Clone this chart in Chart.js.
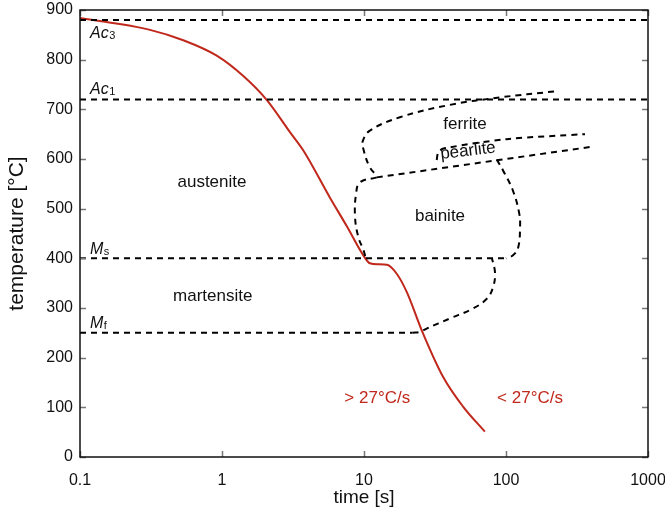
<!DOCTYPE html>
<html>
<head>
<meta charset="utf-8">
<script src="https://cdn.jsdelivr.net/npm/chart.js@4/dist/chart.umd.min.js"></script>
<style>
  body { margin: 0; background: #fff; }
  canvas { display: block; }
</style>
</head>
<body>
<canvas id="cct" width="665" height="515"></canvas>
<script>
// cooling curve (red)
const coolTime = [0.1, 0.311, 0.534, 0.918, 1.413, 2.064, 3.01, 3.74, 5.76, 7.59, 9.89, 11.0, 12.6, 14.5, 17.0, 20.1, 25.5, 36.1, 50.0, 71.0];
const coolTemp = [884, 860, 839, 808, 767, 719, 654, 617, 522, 464, 406, 390, 388, 387, 369, 331, 255, 161, 101, 51];

// critical temperatures
const ac3Temp = 880;
const ac1Temp = 720;
const msTemp = 400;
const mfTemp = 250;

// transformation boundaries
const ferriteTime = [218, 90.8, 40.3, 17.9, 11.0, 9.8, 9.9, 11.0, 12.4];
const ferriteTemp = [736, 724, 709, 684, 657, 636, 620, 583, 566];

const pearliteLowTime = [12.3, 410];
const pearliteLowTemp = [563, 625];

const pearliteTopTime = [32.5, 33.5, 37.5, 101, 360];
const pearliteTopTemp = [598, 615, 622, 640, 650];

const bainiteLeftTime = [12.3, 9.37, 8.79, 8.65, 9.12, 9.93, 10.3];
const bainiteLeftTemp = [563, 553, 530, 483, 443, 416, 400];

const bainiteRightTime = [86, 95.3, 112, 124, 125.6, 121.9, 112, 100];
const bainiteRightTemp = [599, 577, 536, 490, 463, 422, 406, 400];

const mfCurveTime = [22, 24.8, 27.8, 40.3, 58.6, 73.5, 80.9, 83.7, 79.7];
const mfCurveTemp = [250, 252, 259, 279, 299, 319, 341, 370, 400];

// axis ticks
const xTicks = [0.1, 1, 10, 100, 1000];
const yTicks = [0, 100, 200, 300, 400, 500, 600, 700, 800, 900];

// text labels (data coordinates)
const regionNames = ['austenite', 'martensite', 'ferrite', 'bainite'];
const regionTime = [0.85, 0.86, 51.4, 34.3];
const regionTemp = [554, 323, 669, 484];
const pearliteLabel = { text: 'pearlite', t: 54, T: 616 };
const rateNames = ['> 27°C/s', '< 27°C/s'];
const rateTime = [12.4, 147.6];
const rateTemp = [118.5, 118.5];
const critMain = ['Ac', 'Ac', 'M', 'M'];
const critSub = ['3', '1', 's', 'f'];
const critTemp = [856, 742, 421, 272];
const critTime = 0.1176;

const RED = '#c0281c';
const FONT = '"Liberation Sans", Arial, sans-serif';

const pts = (xs, ys) => xs.map((x, i) => ({ x: x, y: ys[i] }));

function dashed(data, tension) {
    return {
        data: data,
        borderColor: '#000',
        borderWidth: 2,
        borderDash: [6, 5],
        pointRadius: 0,
        tension: tension || 0,
        fill: false
    };
}

const datasets = [
    dashed(pts([0.1, 1000], [ac3Temp, ac3Temp])),
    dashed(pts([0.1, 1000], [ac1Temp, ac1Temp])),
    dashed(pts([0.1, 100], [msTemp, msTemp])),
    dashed(pts([0.1, 22], [mfTemp, mfTemp])),
    dashed(pts(ferriteTime, ferriteTemp), 0.4),
    dashed(pts(pearliteLowTime, pearliteLowTemp)),
    dashed(pts(pearliteTopTime, pearliteTopTemp), 0.3),
    dashed(pts(bainiteLeftTime, bainiteLeftTemp), 0.4),
    dashed(pts(bainiteRightTime, bainiteRightTemp), 0.4),
    dashed(pts(mfCurveTime, mfCurveTemp), 0.4),
    {
        data: pts(coolTime, coolTemp),
        borderColor: RED,
        borderWidth: 2,
        pointRadius: 0,
        cubicInterpolationMode: 'monotone',
        fill: false
    }
];

const framePlugin = {
    id: 'frame',
    afterDraw(chart) {
        const ctx = chart.ctx;
        const a = chart.chartArea;
        const xs = chart.scales.x, ys = chart.scales.y;
        ctx.save();
        // inward ticks
        ctx.strokeStyle = '#777';
        ctx.lineWidth = 1.5;
        ctx.beginPath();
        xTicks.forEach(v => {
            const px = Math.round(xs.getPixelForValue(v)) + 0.5;
            ctx.moveTo(px, a.bottom); ctx.lineTo(px, a.bottom - 6);
            ctx.moveTo(px, a.top); ctx.lineTo(px, a.top + 6);
        });
        yTicks.forEach(v => {
            const py = Math.round(ys.getPixelForValue(v)) + 0.5;
            ctx.moveTo(a.left, py); ctx.lineTo(a.left + 6, py);
            ctx.moveTo(a.right, py); ctx.lineTo(a.right - 6, py);
        });
        ctx.stroke();
        // frame
        ctx.strokeStyle = '#111';
        ctx.lineWidth = 1.5;
        ctx.strokeRect(a.left, a.top, a.right - a.left, a.bottom - a.top);

        // labels
        ctx.fillStyle = '#111';
        ctx.font = '17px ' + FONT;
        ctx.textAlign = 'center';
        ctx.textBaseline = 'middle';
        regionNames.forEach((n, i) => {
            ctx.fillText(n, xs.getPixelForValue(regionTime[i]), ys.getPixelForValue(regionTemp[i]));
        });
        ctx.save();
        ctx.translate(xs.getPixelForValue(pearliteLabel.t), ys.getPixelForValue(pearliteLabel.T));
        ctx.rotate(-7 * Math.PI / 180);
        ctx.fillText(pearliteLabel.text, 0, 0);
        ctx.restore();

        ctx.fillStyle = RED;
        rateNames.forEach((n, i) => {
            ctx.fillText(n, xs.getPixelForValue(rateTime[i]), ys.getPixelForValue(rateTemp[i]));
        });

        ctx.fillStyle = '#111';
        ctx.textAlign = 'left';
        ctx.textBaseline = 'alphabetic';
        critMain.forEach((m, i) => {
            const px = xs.getPixelForValue(critTime);
            const py = ys.getPixelForValue(critTemp[i]) + 6;
            ctx.font = 'italic 16px ' + FONT;
            ctx.fillText(m, px, py);
            const w = ctx.measureText(m).width;
            ctx.font = '11px ' + FONT;
            ctx.fillText(critSub[i], px + w + 0.5, py + 1);
        });
        ctx.restore();
    }
};

new Chart(document.getElementById('cct'), {
    type: 'line',
    data: { datasets: datasets },
    options: {
        responsive: false,
        animation: false,
        layout: { padding: { top: 10, right: 17, left: 0, bottom: 0 } },
        plugins: { legend: { display: false }, tooltip: { enabled: false } },
        scales: {
            x: {
                type: 'logarithmic',
                min: 0.1,
                max: 1000,
                afterBuildTicks: s => { s.ticks = xTicks.map(v => ({ value: v })); },
                afterFit: s => { s.height = 58; s.paddingLeft = 0; s.paddingRight = 0; },
                grid: { display: false, drawTicks: false },
                border: { display: false },
                ticks: {
                    color: '#111',
                    font: { family: FONT, size: 16 },
                    padding: 14,
                    maxRotation: 0,
                    autoSkip: false,
                    callback: v => String(v)
                },
                title: {
                    display: true,
                    text: 'time [s]',
                    color: '#111',
                    font: { family: FONT, size: 19 },
                    padding: { top: 0, bottom: 6 }
                }
            },
            y: {
                min: 0,
                max: 900,
                afterBuildTicks: s => { s.ticks = yTicks.map(v => ({ value: v })); },
                afterFit: s => { s.width = 80; s.paddingTop = 0; s.paddingBottom = 0; },
                grid: { display: false, drawTicks: false },
                border: { display: false },
                ticks: {
                    color: '#111',
                    font: { family: FONT, size: 16 },
                    padding: 7
                },
                title: {
                    display: true,
                    text: 'temperature [°C]',
                    color: '#111',
                    font: { family: FONT, size: 21 },
                    padding: { top: 5, bottom: 0 }
                }
            }
        }
    },
    plugins: [framePlugin]
});
</script>
</body>
</html>
